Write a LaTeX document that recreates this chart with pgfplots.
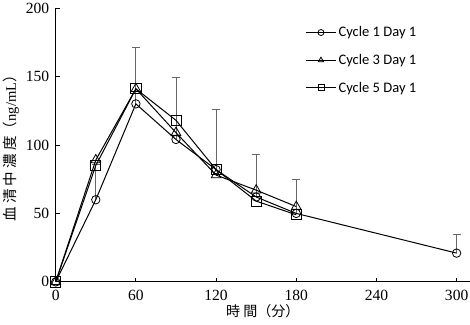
\documentclass[border=0pt]{standalone}
\usepackage{fontspec}
\setmainfont{Liberation Serif}
\newfontfamily\cjk{Noto Sans CJK JP}
\newfontfamily\legfont{Carlito}
\usepackage{pgfplots}
\pgfplotsset{compat=1.18}
\begin{document}
\begin{tikzpicture}
\begin{axis}[
  scale only axis,
  width=413pt, height=273pt,
  xmin=0, xmax=310, ymin=0, ymax=200,
  xtick={0,60,120,180,240,300},
  ytick={0,50,100,150,200},
  axis x line*=bottom, axis y line*=left,
  axis line style={line width=1pt},
  tick align=inside,
  major tick length=4pt,
  tick style={line width=0.8pt, black},
  clip=false,
  /pgf/number format/assume math mode=true,
  ticklabel style={font=\fontsize{15.5}{16}\selectfont},
  xticklabel style={yshift=-5pt},
  yticklabel style={xshift=-3pt},
  xlabel={{\cjk 時 間（分）}},
  ylabel={{\cjk 血 清 中 濃 度（}ng/mL{\cjk ）}},
  xlabel style={font=\fontsize{14}{16}\selectfont, yshift=3pt},
  ylabel style={font=\fontsize{14.5}{16}\selectfont, yshift=0pt},
  legend style={draw=none, fill=none, at={(0.595,0.947)}, anchor=north west,
    font=\legfont\fontsize{14.5}{15}\selectfont, row sep=12pt,
    /tikz/every even column/.append style={column sep=2pt}},
  legend cell align=left,
  legend image code/.code={
    \draw[#1, mark=none] (0pt,0pt) -- (30pt,0pt);
    \draw[#1, mark size=3pt] plot coordinates {(15pt,0pt)};
  },
]
% error bars (upper SD)
\addplot[forget plot, draw=none, mark=none,
  error bars/.cd, y dir=plus, y explicit,
  error bar style={draw=gray!80!black, line width=0.9pt},
  error mark options={draw=gray!80!black, rotate=90, mark size=4pt, line width=0.9pt}]
  coordinates {
  (30,60) +- (0,26)
  (60,130) +- (0,41)
  (90,104) +- (0,45)
  (120,82) +- (0,44)
  (150,62) +- (0,31)
  (180,50) +- (0,25)
  (300,21) +- (0,14)
};
\addplot[black, line width=1pt, mark=o, mark size=4.2pt, mark options={fill=white, line width=0.8pt}]
  coordinates {(0,0) (30,60) (60,130) (90,104) (120,82) (150,62) (180,50) (300,21)};
\addlegendentry{Cycle 1 Day 1}
\addplot[black, line width=1pt, mark=triangle, mark size=5.5pt, mark options={fill=white, line width=0.8pt}]
  coordinates {(0,0) (30,89) (60,141) (90,109) (120,78) (150,67) (180,55)};
\addlegendentry{Cycle 3 Day 1}
\addplot[black, line width=1pt, mark=square, mark size=5pt, mark options={fill=white, line width=0.8pt}]
  coordinates {(0,0) (30,85) (60,141) (90,118) (120,82) (150,59) (180,49)};
\addlegendentry{Cycle 5 Day 1}
\end{axis}
\pgfresetboundingbox
\path ([yshift=-3pt]current axis.outer south west) rectangle ([yshift=8pt]current axis.north east);
\end{tikzpicture}
\end{document}
